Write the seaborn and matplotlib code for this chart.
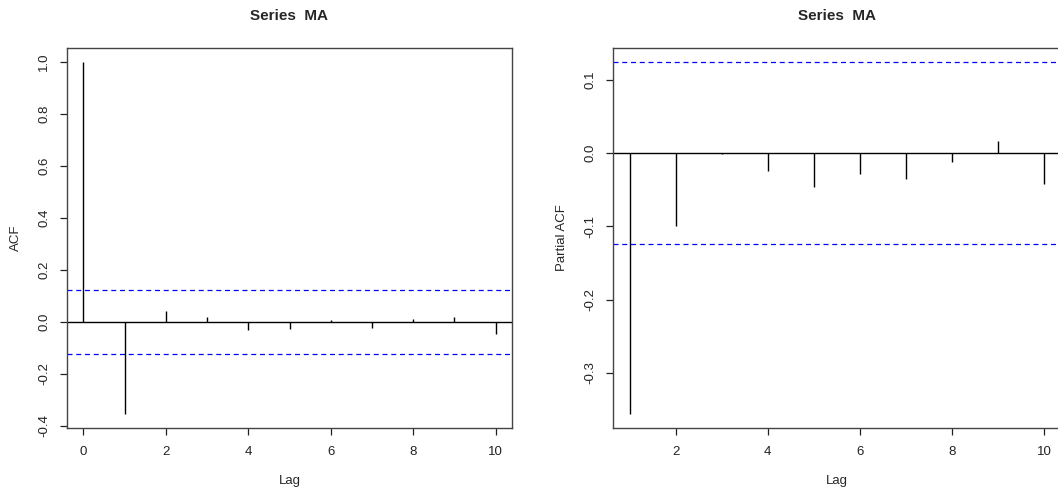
import numpy as np
import matplotlib
matplotlib.use("Agg")
import matplotlib.pyplot as plt
import seaborn as sns

# ---- data ----
acf_lags = [0, 1, 2, 3, 4, 5, 6, 7, 8, 9, 10]
acf_vals = [1.0, -0.355, 0.041, 0.020, -0.032, -0.027, 0.005, -0.025, 0.010, 0.017, -0.048]

pacf_lags = [1, 2, 3, 4, 5, 6, 7, 8, 9, 10]
pacf_vals = [-0.356, -0.100, -0.001, -0.024, -0.047, -0.029, -0.035, -0.013, 0.016, -0.042]

ci = 0.124  # about 1.96/sqrt(n), n ~ 250

acf_yticks = [-0.4, -0.2, 0.0, 0.2, 0.4, 0.6, 0.8, 1.0]
pacf_yticks = [-0.3, -0.2, -0.1, 0.0, 0.1]
xticks_acf = [0, 2, 4, 6, 8, 10]
xticks_pacf = [2, 4, 6, 8, 10]

sns.set_theme(style="ticks")
plt.rcParams['font.family'] = ['Liberation Sans', 'DejaVu Sans']
plt.rcParams['axes.linewidth'] = 1.0
plt.rcParams['axes.edgecolor'] = '#444444'

fig = plt.figure(figsize=(10.58, 4.95), dpi=100)
W, H = 1058, 495
ax1 = fig.add_axes([67 / W, (H - 428) / H, 445 / W, 380 / H])
# the right panel runs a little past the edge of the picture, as in the original
ax2 = fig.add_axes([613 / W, (H - 428) / H, 448 / W, 380 / H])


def r_limits(vals, ext=0.04):
    lo, hi = min(vals), max(vals)
    d = (hi - lo) * ext
    return lo - d, hi + d


def draw(ax, lags, vals, yticks, xticks, ylabel):
    ax.vlines(lags, 0, vals, color="black", linewidth=1.0)
    ax.axhline(0, color="black", linewidth=1.0)
    for c in (ci, -ci):
        ax.axhline(c, color="#0000FF", linewidth=0.9, linestyle=(0, (4, 3)))
    ax.set_xlim(*r_limits(lags))
    ax.set_ylim(*r_limits(list(vals) + [ci, -ci]))
    ax.set_yticks(yticks)
    ax.set_yticklabels([f"{t:.1f}" for t in yticks], rotation=90, va="center")
    ax.set_xticks(xticks)
    ax.tick_params(axis="both", direction="out", length=5, width=0.9,
                   labelsize=9.5, colors="#222222", pad=7)
    ax.tick_params(axis="x", pad=8)
    ax.set_xlabel("Lag", fontsize=9.5, labelpad=12)
    ax.set_ylabel(ylabel, fontsize=9.5, labelpad=12)
    ax.set_title("Series  MA", fontsize=11, fontweight="bold", pad=20)
    for s in ax.spines.values():
        s.set_visible(True)


draw(ax1, acf_lags, acf_vals, acf_yticks, xticks_acf, "ACF")
draw(ax2, pacf_lags, pacf_vals, pacf_yticks, xticks_pacf, "Partial ACF")

fig.savefig("out.png", dpi=100)
